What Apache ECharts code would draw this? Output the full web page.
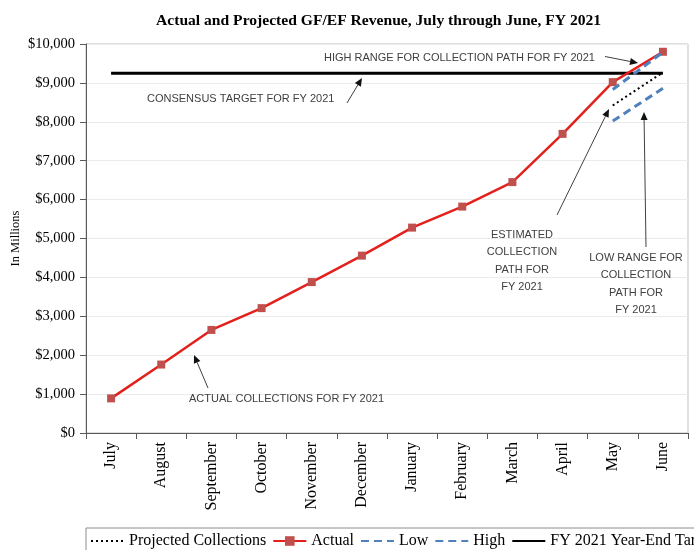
<!DOCTYPE html>
<html>
<head>
<meta charset="utf-8">
<script src="https://cdn.jsdelivr.net/npm/echarts@6/dist/echarts.min.js"></script>
<style>
html,body{margin:0;padding:0;background:#fff;}
#chart{width:694px;height:550px;}
</style>
</head>
<body>
<div id="chart"></div>
<script>
const months = ['July','August','September','October','November','December','January','February','March','April','May','June'];
const actual = [890, 1760, 2650, 3210, 3880, 4560, 5280, 5820, 6450, 7690, 9020, 9800];
const projected = [null, null, null, null, null, null, null, null, null, null, 8420, 9270];
const low = [null, null, null, null, null, null, null, null, null, null, 8020, 8860];
const high = [null, null, null, null, null, null, null, null, null, null, 8830, 9790];
const target = [9250, 9250, 9250, 9250, 9250, 9250, 9250, 9250, 9250, 9250, 9250, 9250];
const seriesNames = ['Projected Collections', 'Actual', 'Low', 'High', 'FY 2021 Year-End Target'];
const yMin = 0, yMax = 10000, yStep = 1000;

const SERIF = "'Liberation Serif', 'Times New Roman', serif";
const SANS = "'Liberation Sans', Arial, sans-serif";
const ANN = '#404040';

function arrow(x1, y1, x2, y2) {
  const dx = x2 - x1, dy = y2 - y1;
  const len = Math.sqrt(dx * dx + dy * dy);
  const ux = dx / len, uy = dy / len;
  const hl = 8, hw = 3.5;
  const bx = x2 - ux * hl, by = y2 - uy * hl;
  return [
    { type: 'line', silent: true, z: 100, shape: { x1: x1, y1: y1, x2: bx, y2: by }, style: { stroke: ANN, lineWidth: 1 } },
    { type: 'polygon', silent: true, z: 100, shape: { points: [[x2, y2], [bx - uy * hw, by + ux * hw], [bx + uy * hw, by - ux * hw]] }, style: { fill: '#111' } }
  ];
}
function label(text, x, y, align) {
  return { type: 'text', silent: true, z: 100, x: x, y: y,
    style: { text: text, fill: ANN, font: '11px ' + SANS, align: align, textAlign: align,
      verticalAlign: 'middle', textVerticalAlign: 'middle', lineHeight: 17.2 } };
}

const noMarker = { opacity: 0 };
const chart = echarts.init(document.getElementById('chart'), null, { renderer: 'canvas' });
const option = {
  backgroundColor: '#fff',
  animation: false,
  title: {
    text: 'Actual and Projected GF/EF Revenue, July through June, FY 2021',
    left: 151, top: 8,
    textStyle: { fontFamily: SERIF, fontSize: 15.6, fontWeight: 'bold', color: '#000' }
  },
  grid: { left: 86, right: 6, top: 44, bottom: 117, containLabel: false, outerBoundsMode: 'none',
    show: true, borderColor: '#bfbfbf', borderWidth: 1, backgroundColor: 'transparent' },
  legend: {
    left: 86, top: 528, width: 800,
    orient: 'horizontal',
    padding: [5, 4, 5, 4],
    itemWidth: 33, itemHeight: 12, itemGap: 6,
    borderColor: '#8c8c8c', borderWidth: 1,
    textStyle: { fontFamily: SERIF, fontSize: 16, color: '#000' },
    data: [
      { name: seriesNames[0], itemStyle: noMarker },
      { name: seriesNames[1] },
      { name: seriesNames[2], itemStyle: noMarker },
      { name: seriesNames[3], itemStyle: noMarker },
      { name: seriesNames[4], itemStyle: noMarker }
    ]
  },
  xAxis: {
    type: 'category', data: months, boundaryGap: true,
    axisLine: { lineStyle: { color: '#595959', width: 1 } },
    axisTick: { show: true, length: 6, lineStyle: { color: '#595959' } },
    axisLabel: { rotate: 90, margin: 9, fontFamily: SERIF, fontSize: 16, color: '#000' },
    splitLine: { show: false }
  },
  yAxis: {
    type: 'value', min: yMin, max: yMax, interval: yStep,
    name: 'In Millions', nameLocation: 'middle', nameGap: 64, nameRotate: 90, nameMoveOverlap: false,
    nameTextStyle: { fontFamily: SERIF, fontSize: 12.5, color: '#000' },
    axisLine: { show: true, lineStyle: { color: '#595959', width: 1 } },
    axisTick: { show: true, length: 6, lineStyle: { color: '#595959' } },
    axisLabel: { margin: 11, fontFamily: SERIF, fontSize: 14.5, color: '#000',
      formatter: v => '$' + v.toLocaleString('en-US') },
    splitLine: { show: true, lineStyle: { color: '#ebebeb', width: 1 } }
  },
  series: [
    { name: seriesNames[0], type: 'line', data: projected, symbol: 'none', z: 3,
      lineStyle: { color: '#000', width: 2, type: [2, 3] }, itemStyle: { color: '#000' } },
    { name: seriesNames[1], type: 'line', data: actual, symbol: 'rect', symbolSize: 8, z: 4,
      lineStyle: { color: '#e3201b', width: 2.5 }, itemStyle: { color: '#c0504d' } },
    { name: seriesNames[2], type: 'line', data: low, symbol: 'none', z: 3,
      lineStyle: { color: '#4f81bd', width: 3, type: [8, 5] }, itemStyle: { color: '#4f81bd' } },
    { name: seriesNames[3], type: 'line', data: high, symbol: 'none', z: 5,
      lineStyle: { color: '#4f81bd', width: 3, type: [8, 5] }, itemStyle: { color: '#4f81bd' } },
    { name: seriesNames[4], type: 'line', data: target, symbol: 'none', z: 2,
      lineStyle: { color: '#000', width: 3 }, itemStyle: { color: '#000' } }
  ],
  graphic: [].concat(
    [label('HIGH RANGE FOR COLLECTION PATH FOR FY 2021', 324, 57.5, 'left')],
    arrow(605, 56.5, 638, 63),
    [label('CONSENSUS TARGET FOR FY 2021', 147, 98.5, 'left')],
    arrow(347, 103, 362, 78),
    [label('ACTUAL COLLECTIONS FOR FY 2021', 189, 398.5, 'left')],
    arrow(208, 388, 194, 355),
    [label('ESTIMATED\nCOLLECTION\nPATH FOR\nFY 2021', 522, 261, 'center')],
    arrow(557, 215, 609, 109),
    [label('LOW RANGE FOR\nCOLLECTION\nPATH FOR\nFY 2021', 636, 284, 'center')],
    arrow(646, 247, 644, 112)
  )
};
chart.setOption(option);
</script>
</body>
</html>
